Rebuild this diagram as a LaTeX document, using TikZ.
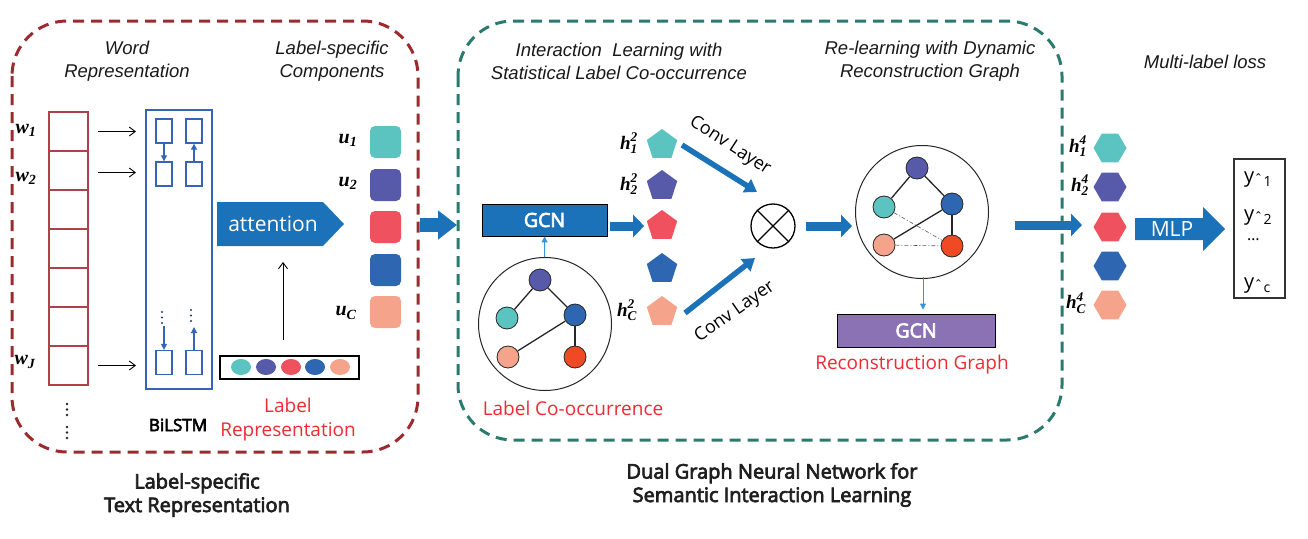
\documentclass[tikz,border=0pt]{standalone}
\usepackage{fontspec}
\usepackage{amsmath}
\setmainfont{Open Sans}[AutoFakeBold=3.5]
\newfontfamily\arialf{Liberation Sans}
\newfontfamily\tmsf{Liberation Serif}
\usetikzlibrary{arrows.meta,shapes.geometric,calc}
\definecolor{boxred}{HTML}{9B2B2F}
\definecolor{boxteal}{HTML}{2A7A6E}
\definecolor{cellred}{HTML}{B0404A}
\definecolor{lstmblue}{HTML}{3566B5}
\definecolor{arrblue}{HTML}{1B72B9}
\definecolor{cteal}{HTML}{5BC4C1}
\definecolor{cpurple}{HTML}{575AA8}
\definecolor{cpink}{HTML}{EF525E}
\definecolor{cblue}{HTML}{2E66B2}
\definecolor{csalmon}{HTML}{F5A48B}
\definecolor{corange}{HTML}{EF4A24}
\definecolor{gcnpurple}{HTML}{8B72B5}
\definecolor{labred}{HTML}{EE2A33}
\definecolor{thinblue}{HTML}{3A95D6}
\newcommand\fsz[2]{\fontsize{#1}{#2}\selectfont}
\newcommand\ml[1]{{\tmsf\bfseries\itshape #1}}
\newcommand\slab[2]{$\text{\ml{#1}}_{\text{\ml{#2}}}$}
\newcommand\hlab[3]{$\text{\ml{#1}}_{\text{\ml{#2}}}^{\text{\ml{#3}}}$}
\newcommand\yhat[1]{{\fsz{20}{24}y}{\fsz{14}{18}\raisebox{-2pt}{ˆ}\kern1pt\raisebox{-4pt}{#1}}}
\tikzset{
  dframe/.style={line width=3pt, dash pattern=on 11pt off 7pt, rounded corners=55pt},
  hdr/.style={font=\arialf\itshape\fsz{18.5}{23}, align=center, text=black!90},
  ttl/.style={font=\bfseries\fsz{20}{23.5}, align=center, text=black!88},
  redlab/.style={font=\fsz{19}{24}, align=center, text=labred},
  cell/.style={draw=cellred, line width=1.2pt, minimum width=39pt, minimum height=39pt},
  lbox/.style={draw=lstmblue, line width=1.3pt, minimum width=16pt, minimum height=24pt},
  thinarr/.style={line width=0.9pt, -{Straight Barb[length=6pt,width=9pt]}},
  lstmarr/.style={lstmblue, line width=1.1pt, -{Triangle[length=6pt,width=6pt]}},
  sq/.style={rounded corners=5pt, minimum width=31pt, minimum height=32pt},
  gnode/.style={circle, draw=black!85, line width=0.8pt, minimum size=22pt},
  gedge/.style={black!85, line width=1.3pt},
  gdash/.style={black!65, line width=0.6pt, dash pattern=on 4pt off 2pt on 1pt off 2pt},
  pent/.style={regular polygon, regular polygon sides=5, minimum size=32pt},
  hexa/.style={regular polygon, regular polygon sides=6, minimum size=33pt},
  bigarr/.style={arrblue, line width=14pt, -{Triangle[length=19pt,width=28pt]}},
  midarr/.style={arrblue, line width=9pt, -{Triangle[length=11pt,width=22pt]}},
  convarr/.style={arrblue, line width=5.5pt, -{Triangle[length=12pt,width=15pt]}},
  tbarr/.style={thinblue, line width=1pt, -{Triangle[length=6pt,width=6pt]}},
  labtxt/.style={font=\fsz{20}{24}},
  hlabtxt/.style={font=\fsz{19}{22}},
  convtxt/.style={font=\fsz{18}{22}},
  gcnbox/.style={draw=black, line width=0.8pt, font=\bfseries\fsz{19.5}{22}, text=white},
}
\begin{document}
\begin{tikzpicture}[x=1pt,y=-1pt, every node/.style={inner sep=0pt}]
\useasboundingbox (0,0) rectangle (1308,538);
% frames
\draw[dframe, boxred] (12,21) rectangle (418,452);
\draw[dframe, boxteal] (458,21) rectangle (1062,440);
% headings
\node[hdr] (hw) at (127,61.5) {Word\\Representation};
\node[hdr] (hl) at (332,61.5) {Label-specific\\Components};
\node[hdr] (hi) at (619,61.5) {Interaction\ \ Learning with\\Statistical Label Co-occurrence};
\node[hdr] (hr) at (930,61.5) {Re-learning with Dynamic\\Reconstruction Graph};
\node[hdr] (hm) at (1205,62) {Multi-label loss};
% word column
\foreach \i in {0,...,6} {
  \node[cell] (c\i) at (68.5,131.5+39*\i) {};
}
\node[labtxt] (w1) at (26,130) {\slab{w}{1}};
\node[labtxt] (w2) at (26,178) {\slab{w}{2}};
\node[labtxt] (wJ) at (25,362) {\slab{w}{J}};
\foreach \yy in {404,409.5,415,427,432.5,438} { \fill[black!85] (67,\yy) circle (1.4); }
% BiLSTM
\node[draw=lstmblue, line width=2pt, minimum width=66pt, minimum height=279pt] (lstm) at (179,249.5) {};
\node[lbox] (a1) at (164,131) {};
\node[lbox] (b1) at (194,131) {};
\node[lbox] (a2) at (164,174) {};
\node[lbox] (b2) at (194,174) {};
\node[lbox] (a3) at (164,362.5) {};
\node[lbox] (b3) at (194,362.5) {};
\draw[lstmarr] (a1) -- (a2);
\draw[lstmarr] (b2) -- (b1);
\foreach \yy in {312,317.5,323} { \fill[lstmblue!60!black] (162,\yy) circle (1.2); }
\foreach \yy in {310,315.5,321} { \fill[lstmblue!60!black] (191,\yy) circle (1.2); }
\coordinate (da) at (164,326);
\coordinate (db) at (194,327);
\draw[lstmarr] (da) -- (a3);
\draw[lstmarr] (b3) -- (db);
\node[font=\bfseries\fsz{17}{20}] (bil) at (178,425) {BiLSTM};
% word arrows
\draw[thinarr] ([xshift=9pt]c0.east) -- ([xshift=-9pt]lstm.west |- c0.east);
\draw[thinarr] ([xshift=9pt,yshift=-2pt]c1.east) -- ([xshift=-9pt,yshift=-2pt]lstm.west |- c1.east);
\draw[thinarr] ([xshift=9pt]c6.east) -- ([xshift=-9pt]lstm.west |- c6.east);
% attention
\fill[arrblue] (217,202) -- (323,202) -- (344,224) -- (323,246) -- (217,246) -- cycle;
\node[font=\fsz{21}{24}, text=white] (att) at (273,224) {attention};
% label representation
\node[draw=black, line width=1.8pt, minimum width=139pt, minimum height=23pt] (lrep) at (289.5,367.5) {};
\node[ellipse, fill=cteal, minimum width=20pt, minimum height=16pt] (e1) at (241,367) {};
\node[ellipse, fill=cpurple, minimum width=20pt, minimum height=16pt] (e2) at (266,367) {};
\node[ellipse, fill=cpink, minimum width=20pt, minimum height=16pt] (e3) at (291,367) {};
\node[ellipse, fill=cblue, minimum width=20pt, minimum height=16pt] (e4) at (315,367) {};
\node[ellipse, fill=csalmon, minimum width=20pt, minimum height=16pt] (e5) at (340,367) {};
\coordinate (attsrc) at (283,340);
\coordinate (attin) at (283,262);
\draw[thinarr] (attsrc) -- (attin);
\node[redlab] (lrlab) at (288,420) {Label\\Representation};
% u squares
\node[sq, fill=cteal] (u1) at (385.5,142) {};
\node[sq, fill=cpurple] (u2) at (385.5,185) {};
\node[sq, fill=cpink] (u3) at (385.5,227) {};
\node[sq, fill=cblue] (u4) at (385.5,270) {};
\node[sq, fill=csalmon] (u5) at (385.5,312) {};
\node[labtxt] (ul1) at (348,140) {\slab{u}{1}};
\node[labtxt] (ul2) at (348,183) {\slab{u}{2}};
\node[labtxt] (ulC) at (346,313) {\slab{u}{C}};
% left to middle arrow
\coordinate (la0) at (420,225);
\coordinate (la1) at (457,225);
\draw[bigarr] (la0) -- (la1);
% GCN 1
\node[gcnbox, fill=arrblue, minimum width=125pt, minimum height=32pt] (gcn1) at (544.5,220) {GCN};
\node[circle, draw=black!85, line width=1pt, minimum size=133pt] (g1) at (545,324) {};
\node[gnode, fill=cpurple] (g1a) at (540,280) {};
\node[gnode, fill=cteal] (g1b) at (507,318) {};
\node[gnode, fill=cblue] (g1c) at (575,315) {};
\node[gnode, fill=csalmon] (g1d) at (508,357) {};
\node[gnode, fill=corange] (g1e) at (575,357) {};
\draw[gedge] (g1a) -- (g1b);
\draw[gedge] (g1a) -- (g1c);
\draw[gedge] (g1c) -- (g1d);
\draw[gedge] (g1c) -- (g1e);
\draw[tbarr] (g1) -- (gcn1);
\node[redlab] (lco) at (573,408) {Label Co-occurrence};
% pentagons
\node[pent, fill=cteal] (p1) at (662,145) {};
\node[pent, fill=cpurple] (p2) at (662,186) {};
\node[pent, fill=cpink] (p3) at (662,226) {};
\node[pent, fill=cblue] (p4) at (662,269) {};
\node[pent, fill=csalmon] (p5) at (662,312) {};
\node[hlabtxt] (hp1) at (629,143) {\hlab{h}{1}{2}};
\node[hlabtxt] (hp2) at (629,184) {\hlab{h}{2}{2}};
\node[hlabtxt] (hp5) at (627,310) {\hlab{h}{C}{2}};
\draw[midarr] ([xshift=3pt]gcn1.east |- p3) -- ([xshift=-4pt]p3.west);
% conv arrows
\node[circle, draw=black, line width=1.3pt, minimum size=44pt] (ot) at (773,226) {};
\draw[black, line width=1.3pt] (ot.north east) -- (ot.south west);
\draw[black, line width=1.3pt] (ot.north west) -- (ot.south east);
\coordinate (cu0) at (682,145);
\coordinate (cu1) at (757,192);
\coordinate (cl0) at (685,313);
\coordinate (cl1) at (755,258);
\draw[convarr] (cu0) -- (cu1);
\draw[convarr] (cl0) -- (cl1);
\node[convtxt, rotate=-33] (cvu) at (730,146) {Conv Layer};
\node[convtxt, rotate=35] (cvl) at (735,312) {Conv Layer};
% graph 2
\node[circle, draw=black!85, line width=1pt, minimum size=133pt] (g2) at (922,212) {};
\draw[midarr] ([xshift=10pt]ot.east) -- ([xshift=-3pt]g2.west |- ot.east);
\node[gnode, fill=cpurple] (g2a) at (917,168) {};
\node[gnode, fill=cteal] (g2b) at (884,207) {};
\node[gnode, fill=cblue] (g2c) at (952,204) {};
\node[gnode, fill=csalmon] (g2d) at (884,245) {};
\node[gnode, fill=corange] (g2e) at (952,246) {};
\draw[gedge] (g2a) -- (g2b);
\draw[gedge] (g2a) -- (g2c);
\draw[gedge] (g2c) -- (g2d);
\draw[gedge] (g2c) -- (g2e);
\draw[gdash] (g2b) -- (g2e);
\draw[gdash] (g2d) -- (g2e);
\node[gcnbox, fill=gcnpurple, minimum width=158pt, minimum height=33pt] (gcn2) at (916,330.5) {GCN};
\coordinate (g2out) at (923,277);
\draw[tbarr] (g2out) -- ([yshift=4pt]gcn2.north -| g2out);
\node[redlab] (rcg) at (912,365) {Reconstruction Graph};
% to hexagons
\coordinate (ra0) at (1015,225);
\coordinate (ra1) at (1082,225);
\draw[midarr] (ra0) -- (ra1);
\node[hexa, fill=cteal] (x1) at (1110,148) {};
\node[hexa, fill=cpurple] (x2) at (1110,187) {};
\node[hexa, fill=cpink] (x3) at (1110,227) {};
\node[hexa, fill=cblue] (x4) at (1110,266) {};
\node[hexa, fill=csalmon] (x5) at (1110,305) {};
\node[hlabtxt] (hx1) at (1078,146) {\hlab{h}{1}{4}};
\node[hlabtxt] (hx2) at (1080,185) {\hlab{h}{2}{4}};
\node[hlabtxt] (hx5) at (1076,303) {\hlab{h}{C}{4}};
% MLP
\fill[arrblue] (1135,218) -- (1203,218) -- (1203,207) -- (1225,229) -- (1203,251) -- (1203,240) -- (1135,240) -- cycle;
\node[font=\fsz{21}{24}, text=white] (mlp) at (1172,229) {MLP};
% output
\node[draw=black!80, line width=1.2pt, minimum width=51pt, minimum height=139pt] (out) at (1259.5,228.5) {};
\node[anchor=base west] (y1) at (1244,182) {\yhat{1}};
\node[anchor=base west] (y2) at (1244,220) {\yhat{2}};
\node[anchor=west, font=\fsz{16}{20}] (yd) at (1247,240) {…};
\node[anchor=base west] (yc) at (1244,288) {\yhat{c}};
% titles
\node[ttl] (t1) at (197,495) {Label-specific\\Text Representation};
\node[ttl] (t2) at (772,485) {Dual Graph Neural Network for\\Semantic Interaction Learning};
\end{tikzpicture}
\end{document}
